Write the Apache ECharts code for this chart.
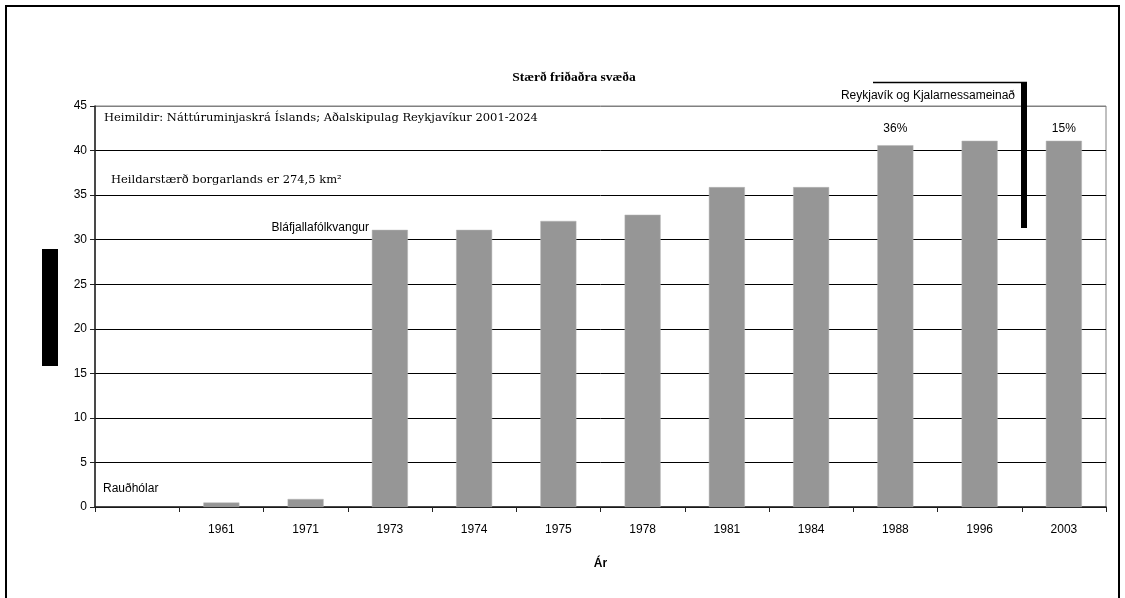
<!DOCTYPE html>
<html>
<head>
<meta charset="utf-8">
<script src="https://cdn.jsdelivr.net/npm/echarts@6/dist/echarts.min.js"></script>
<style>
  html, body { margin: 0; padding: 0; background: #fff; }
  #chart { width: 1125px; height: 598px; }
</style>
</head>
<body>
<div id="chart"></div>
<script>
// Protected areas in Reykjavík (km²) by year
const years = ['', '1961', '1971', '1973', '1974', '1975', '1978', '1981', '1984', '1988', '1996', '2003'];
const areaKm2 = [null, 0.5, 0.9, 31.1, 31.1, 32.1, 32.8, 35.9, 35.9, 40.6, 41.1, 41.1];
const shareNotes = [{ year: '1988', text: '36%' }, { year: '2003', text: '15%' }];
const yTicks = { min: 0, max: 45, interval: 5 };

const SANS = 'Liberation Sans, Arial, sans-serif';
const SERIF = 'DejaVu Serif, Liberation Serif, serif';

// grid line colours: black inside, grey at the top edge
const splitColors = ['#000', '#000', '#000', '#000', '#000', '#000', '#000', '#000', '#000', '#808080'];

const chart = echarts.init(document.getElementById('chart'), null, { renderer: 'canvas' });

const staticGraphics = [
  // outer frame
  { type: 'rect', shape: { x: 6, y: 6, width: 1113, height: 600 },
    style: { fill: null, stroke: '#000', lineWidth: 2 }, silent: true },
  // bar standing in for the vertical axis caption
  { type: 'rect', shape: { x: 42, y: 249, width: 16, height: 117 },
    style: { fill: '#000' }, silent: true },
  { type: 'text', x: 104, y: 118,
    style: { text: 'Heimildir: Náttúruminjaskrá Íslands; Aðalskipulag Reykjavíkur 2001-2024',
             font: '11.5px ' + SERIF, fill: '#000', textVerticalAlign: 'middle' }, z: 10 },
  { type: 'text', x: 111, y: 180,
    style: { text: 'Heildarstærð borgarlands er 274,5 km²',
             font: '11.5px ' + SERIF, fill: '#000', textVerticalAlign: 'middle' }, z: 10 },
  { type: 'text', x: 369, y: 228,
    style: { text: 'Bláfjallafólkvangur', font: '12px ' + SANS, fill: '#000',
             textAlign: 'right', textVerticalAlign: 'middle' }, z: 10 },
  { type: 'text', x: 103, y: 489,
    style: { text: 'Rauðhólar', font: '12px ' + SANS, fill: '#000',
             textVerticalAlign: 'middle' }, z: 10 },
  { type: 'text', x: 1015, y: 96,
    style: { text: 'Reykjavík og Kjalarnessameinað', font: '12px ' + SANS, fill: '#000',
             textAlign: 'right', textVerticalAlign: 'middle' }, z: 10 },
  // bracket marking the merger
  { type: 'line', shape: { x1: 873, y1: 82.5, x2: 1027, y2: 82.5 },
    style: { stroke: '#000', lineWidth: 1.5 }, z: 10 },
  { type: 'rect', shape: { x: 1021, y: 82, width: 6, height: 146 },
    style: { fill: '#000' }, z: 10 }
];

chart.setOption({
  animation: false,
  backgroundColor: '#fff',
  title: {
    text: 'Stærð friðaðra svæða',
    left: 569, top: 66, textAlign: 'center',
    textStyle: { fontFamily: 'Liberation Serif, serif', fontWeight: 'bold', fontSize: 13.5, color: '#000' }
  },
  grid: {
    left: 95, right: 19, top: 106, bottom: 91,
    show: true, borderColor: '#808080', borderWidth: 1, backgroundColor: 'transparent'
  },
  xAxis: {
    type: 'category',
    data: years,
    name: 'Ár',
    nameLocation: 'middle',
    nameGap: 51,
    nameTextStyle: { fontFamily: SANS, fontWeight: 'bold', fontSize: 12, color: '#000' },
    axisLine: { lineStyle: { color: '#222', width: 1.5 } },
    axisTick: { show: true, length: 5, inside: false, lineStyle: { color: '#222' } },
    axisLabel: { fontFamily: SANS, fontSize: 12, color: '#000', margin: 17, interval: 0 },
    splitLine: { show: false }
  },
  yAxis: {
    type: 'value',
    min: yTicks.min, max: yTicks.max, interval: yTicks.interval,
    axisLine: { show: true, lineStyle: { color: '#222', width: 1.5 } },
    axisTick: { show: true, length: 5, lineStyle: { color: '#222' } },
    axisLabel: { fontFamily: SANS, fontSize: 12, color: '#000', margin: 8 },
    splitLine: { show: true, lineStyle: { color: splitColors, width: 1 } }
  },
  series: [{
    type: 'bar',
    data: areaKm2,
    barWidth: 36,
    itemStyle: { color: '#969696', borderColor: '#b4b4b4', borderWidth: 0.5 },
    z: 3
  }],
  graphic: staticGraphics
});

// share notes sit on one row above the tallest bars, centred on their category
const noteY = chart.convertToPixel({ yAxisIndex: 0 }, 42.4);
const notes = shareNotes.map(n => ({
  type: 'text',
  x: chart.convertToPixel({ xAxisIndex: 0 }, n.year),
  y: noteY,
  style: { text: n.text, font: '12px ' + SANS, fill: '#000',
           textAlign: 'center', textVerticalAlign: 'middle' },
  z: 10
}));
chart.setOption({ graphic: staticGraphics.concat(notes) });
</script>
</body>
</html>
